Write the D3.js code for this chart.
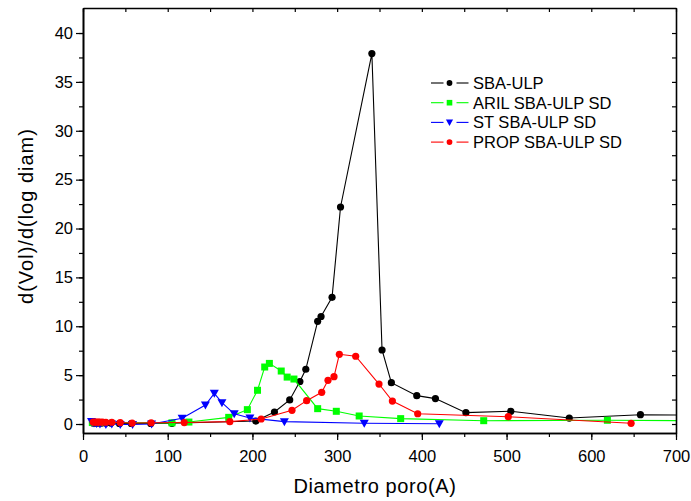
<!DOCTYPE html>
<html>
<head>
<meta charset="utf-8">
<script src="https://cdn.jsdelivr.net/npm/d3@7"></script>
<style>
  body { margin: 0; background: #fff; }
  svg { font-family: Arial, 'Liberation Sans', sans-serif; }
</style>
</head>
<body>
<div id="chart"></div>
<script>
// datos
var seriesNames = ['SBA-ULP', 'ARIL SBA-ULP SD', 'ST SBA-ULP SD', 'PROP SBA-ULP SD'];
var seriesColors = ['#000000', '#00ff00', '#0000ff', '#ff0000'];
var seriesSymbols = ['circle', 'square', 'triangle', 'circle'];

var sbaX = [12, 15, 18, 22, 27, 33, 43, 57, 80, 105, 204, 226, 244, 256, 263, 277, 281, 294, 304, 341, 353, 364, 394, 416, 452, 505, 574, 658, 760];
var sbaY = [0.1, 0.1, 0.1, 0.1, 0.1, 0.1, 0.05, 0.05, 0.05, 0.07, 0.3, 1.23, 2.46, 4.35, 5.6, 10.5, 11.0, 12.96, 22.2, 37.9, 7.57, 4.23, 2.9, 2.6, 1.16, 1.3, 0.61, 0.95, 0.87];

var arilX = [11, 13, 15, 17, 20, 105, 125, 172, 194, 206, 214.5, 220, 234, 241, 249, 277, 299, 326, 375, 473, 619, 780];
var arilY = [0.15, 0.15, 0.15, 0.15, 0.15, 0.12, 0.2, 0.68, 1.47, 3.45, 5.83, 6.2, 5.42, 4.8, 4.6, 1.57, 1.3, 0.82, 0.55, 0.34, 0.38, 0.32];

var stX = [10, 13, 16, 20, 27, 34, 44, 58.5, 81, 117, 144.5, 155, 164, 178.5, 197, 237.7, 332, 420.6];
var stY = [0.25, 0.1, 0.05, 0.0, -0.05, 0.0, -0.05, -0.05, 0.0, 0.58, 1.94, 3.14, 2.18, 1.04, 0.62, 0.24, 0.07, 0.03];

var propX = [12, 14, 16, 18, 20, 23, 27, 34, 44, 58, 80.5, 119.5, 173.3, 210.3, 246.7, 264, 281.8, 289.2, 296.3, 302.6, 321.9, 349.4, 365.2, 395.1, 502, 647];
var propY = [0.2, 0.2, 0.2, 0.2, 0.2, 0.2, 0.18, 0.18, 0.15, 0.1, 0.13, 0.15, 0.24, 0.51, 1.4, 2.39, 3.24, 4.47, 4.84, 7.13, 6.93, 4.09, 2.35, 1.05, 0.75, 0.07];

var xTicks = [0, 100, 200, 300, 400, 500, 600, 700];
var yTicks = [0, 5, 10, 15, 20, 25, 30, 35, 40];

var width = 691, height = 501;
var plot = { left: 83, right: 676, top: 8, bottom: 433 };

var svg = d3.select('#chart').append('svg')
  .attr('width', width)
  .attr('height', height);

// escalas
var x = d3.scaleLinear().domain([0, 700]).range([plot.left, plot.right]);
var y = d3.scaleLinear().domain([-0.92, 42.56]).range([plot.bottom, plot.top]);

var series = [
  { xs: sbaX, ys: sbaY },
  { xs: arilX, ys: arilY },
  { xs: stX, ys: stY },
  { xs: propX, ys: propY }
].map(function(s, i) {
  return {
    name: seriesNames[i],
    color: seriesColors[i],
    symbol: seriesSymbols[i],
    points: s.xs.map(function(v, j) { return [v, s.ys[j]]; })
  };
});

svg.append('clipPath').attr('id', 'clip')
  .append('rect')
  .attr('x', plot.left).attr('y', plot.top)
  .attr('width', plot.right - plot.left).attr('height', plot.bottom - plot.top);

var line = d3.line()
  .x(function(d) { return x(d[0]); })
  .y(function(d) { return y(d[1]); });

function marker(sel, symbol, color) {
  if (symbol === 'circle') {
    sel.append('circle').attr('r', 3.6).attr('fill', color);
  } else if (symbol === 'square') {
    sel.append('rect').attr('x', -3.5).attr('y', -3.5).attr('width', 7).attr('height', 7).attr('fill', color);
  } else {
    sel.append('path').attr('d', 'M-4.5,-3.5L4.5,-3.5L0,4.5Z').attr('fill', color);
  }
}

var plotArea = svg.append('g').attr('clip-path', 'url(#clip)');

series.forEach(function(s) {
  var g = plotArea.append('g');
  g.append('path')
    .datum(s.points)
    .attr('d', line)
    .attr('fill', 'none')
    .attr('stroke', s.color)
    .attr('stroke-width', 1.1);
  g.selectAll('.pt')
    .data(s.points)
    .enter()
    .append('g')
    .attr('class', 'pt')
    .attr('transform', function(d) { return 'translate(' + x(d[0]) + ',' + y(d[1]) + ')'; })
    .each(function() { marker(d3.select(this), s.symbol, s.color); });
});

// ejes
var minorX = d3.range(0, 701, 50);
var minorY = d3.range(0, 42.5, 2.5);

var axisStyle = function(g) {
  g.selectAll('path').attr('stroke', '#000').attr('stroke-width', 1.6);
  g.selectAll('line').attr('stroke', '#000').attr('stroke-width', 1.2);
  g.selectAll('text').attr('font-size', 16.5).attr('fill', '#000');
};

svg.append('g')
  .attr('transform', 'translate(0,' + plot.bottom + ')')
  .call(d3.axisBottom(x).tickValues(minorX).tickSize(4).tickFormat('').tickSizeOuter(0))
  .call(axisStyle);
svg.append('g')
  .attr('transform', 'translate(0,' + plot.bottom + ')')
  .call(d3.axisBottom(x).tickValues(xTicks).tickSize(7).tickPadding(10).tickSizeOuter(0))
  .call(axisStyle);

svg.append('g')
  .attr('transform', 'translate(0,' + plot.top + ')')
  .call(d3.axisTop(x).tickValues(minorX).tickSize(-4).tickFormat('').tickSizeOuter(0))
  .call(axisStyle);

svg.append('g')
  .attr('transform', 'translate(' + plot.left + ',0)')
  .call(d3.axisLeft(y).tickValues(minorY).tickSize(4).tickFormat('').tickSizeOuter(0))
  .call(axisStyle);
svg.append('g')
  .attr('transform', 'translate(' + plot.left + ',0)')
  .call(d3.axisLeft(y).tickValues(yTicks).tickSize(7).tickPadding(3).tickSizeOuter(0))
  .call(axisStyle);

svg.append('g')
  .attr('transform', 'translate(' + plot.right + ',0)')
  .call(d3.axisRight(y).tickValues(minorY).tickSize(-4).tickFormat('').tickSizeOuter(0))
  .call(axisStyle);

// titulos
svg.append('text')
  .attr('x', 375)
  .attr('y', 493)
  .attr('text-anchor', 'middle')
  .attr('font-size', 20)
  .attr('letter-spacing', 0.6)
  .text('Diametro poro(A)');

svg.append('text')
  .attr('transform', 'translate(33,' + 216 + ') rotate(-90)')
  .attr('text-anchor', 'middle')
  .attr('font-size', 20)
  .attr('letter-spacing', 1.0)
  .text('d(Vol)/d(log diam)');

// leyenda
var legend = svg.append('g').attr('transform', 'translate(431,83)');
series.forEach(function(s, i) {
  var row = legend.append('g').attr('transform', 'translate(0,' + (i * 19.7) + ')');
  row.append('line').attr('x1', 0).attr('x2', 12.5).attr('stroke', s.color).attr('stroke-width', 1.1);
  row.append('line').attr('x1', 25.5).attr('x2', 37.5).attr('stroke', s.color).attr('stroke-width', 1.1);
  var m = row.append('g').attr('transform', 'translate(18.5,0) scale(0.8)');
  marker(m, s.symbol, s.color);
  row.append('text')
    .attr('x', 42)
    .attr('y', 6)
    .attr('font-size', 16.5)
    .text(s.name);
});
</script>
</body>
</html>
